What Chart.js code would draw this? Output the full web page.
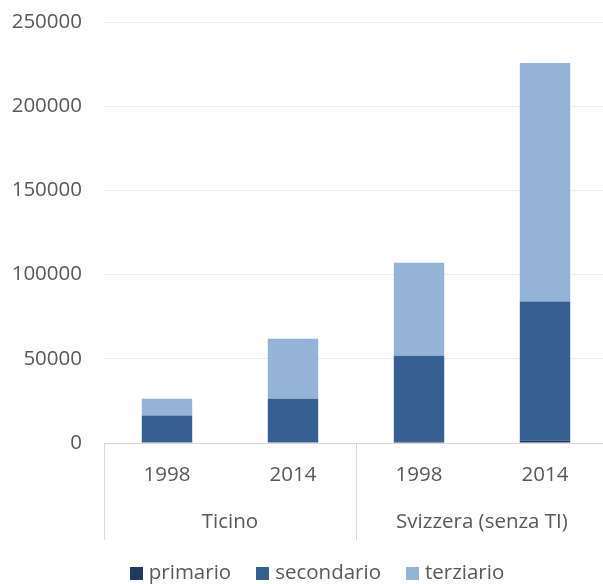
<!DOCTYPE html>
<html><head><meta charset="utf-8">
<script src="https://cdn.jsdelivr.net/npm/chart.js@4.4.1/dist/chart.umd.min.js"></script>
<style>
html,body{margin:0;padding:0;background:#fff;overflow:hidden;}
#wrap{width:640px;height:584px;position:relative;}
</style></head>
<body><div id="wrap"><canvas id="c"></canvas></div>
<script>
const categories = ['1998', '2014', '1998', '2014'];
const groups = ['Ticino', 'Svizzera (senza TI)'];
const primario = [400, 300, 1000, 1300];
const secondario = [16000, 26000, 50800, 82700];
const terziario = [9900, 35600, 55200, 141600];
const yTicks = [0, 50000, 100000, 150000, 200000, 250000];

const FONT = "'Open Sans', sans-serif";
const FSIZE = 20.5;
const GRAY = '#595959';

const groupPlugin = {
  id: 'groupLabels',
  afterDraw(chart) {
    const ctx = chart.ctx, area = chart.chartArea;
    const step = (area.right - area.left) / categories.length;
    ctx.save();
    ctx.strokeStyle = '#d9d9d9';
    ctx.lineWidth = 1;
    [0, 2, 4].forEach(i => {
      const px = Math.round(area.left + i * step) + 0.5;
      ctx.beginPath();
      ctx.moveTo(px, area.bottom);
      ctx.lineTo(px, area.bottom + 97);
      ctx.stroke();
    });
    ctx.fillStyle = GRAY;
    ctx.font = FSIZE + 'px ' + FONT;
    ctx.textAlign = 'center';
    ctx.textBaseline = 'middle';
    groups.forEach((g, i) => {
      const cx = area.left + (2 * i + 1) * step;
      ctx.fillText(g, cx, area.bottom + 79);
    });

    // legend
    const items = chart.data.datasets.map(d => ({ text: d.label, color: d.backgroundColor }));
    const box = 13, gapText = 6, gapItem = 25;
    ctx.textAlign = 'left';
    const widths = items.map(it => box + gapText + ctx.measureText(it.text).width);
    const total = widths.reduce((a, b) => a + b, 0) + gapItem * (items.length - 1);
    let x = 317 - total / 2;
    const cy = 573;
    items.forEach((it, i) => {
      ctx.fillStyle = it.color;
      ctx.fillRect(Math.round(x), Math.round(cy - box / 2), box, box);
      ctx.fillStyle = GRAY;
      ctx.fillText(it.text, x + box + gapText, cy);
      x += widths[i] + gapItem;
    });
    ctx.restore();
  }
};

new Chart(document.getElementById('c'), {
  type: 'bar',
  data: {
    labels: categories,
    datasets: [
      { label: 'primario', data: primario, backgroundColor: '#203864' },
      { label: 'secondario', data: secondario, backgroundColor: '#366092' },
      { label: 'terziario', data: terziario, backgroundColor: '#95b3d7' }
    ]
  },
  options: {
    responsive: true,
    maintainAspectRatio: false,
    animation: false,
    datasets: { bar: { categoryPercentage: 1, barPercentage: 0.4 } },
    layout: { padding: { left: 0, right: 32, top: 22, bottom: 44 } },
    plugins: {
      tooltip: { enabled: false },
      legend: { display: false }
    },
    scales: {
      x: {
        stacked: true,
        grid: { display: false, drawTicks: false },
        border: { display: true, color: '#d9d9d9', width: 1 },
        ticks: { color: GRAY, font: { family: FONT, size: FSIZE }, padding: 20, maxRotation: 0 },
        afterFit(s) { s.height = 97; s.paddingLeft = 0; s.paddingRight = 0; }
      },
      y: {
        stacked: true,
        min: 0, max: 250000,
        afterBuildTicks(s) { s.ticks = yTicks.map(v => ({ value: v })); },
        grid: { color: '#ececec', drawTicks: false },
        border: { display: false },
        ticks: { color: GRAY, font: { family: FONT, size: FSIZE }, padding: 22, callback: v => String(v) },
        afterFit(s) { s.width = 104; s.paddingTop = 0; s.paddingBottom = 0; }
      }
    }
  },
  plugins: [groupPlugin]
});
</script></body></html>
